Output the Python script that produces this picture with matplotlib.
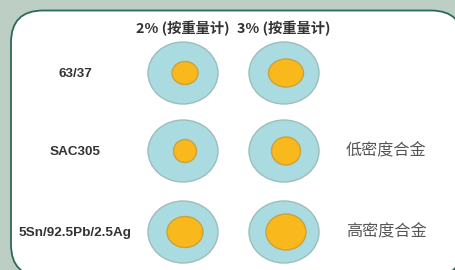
import matplotlib
matplotlib.use("Agg")
import matplotlib.pyplot as plt
from matplotlib.patches import Ellipse, FancyBboxPatch

# solder alloys and flux percentages
alloys = ["63/37", "SAC305", "5Sn/92.5Pb/2.5Ag"]
density_notes = ["", "低密度合金", "高密度合金"]
columns = ["2% (按重量计)", "3% (按重量计)"]

# void size (width, height) for 2% / 3% per alloy
void_w_2 = [26, 23, 36]
void_h_2 = [23, 23, 31]
void_w_3 = [35, 29, 40]
void_h_3 = [28, 28, 36]

W, H = 456, 270
fig = plt.figure(figsize=(W / 100, H / 100), dpi=100)
fig.patch.set_facecolor("#bdcfc5")
ax = fig.add_axes([0, 0, 1, 1])
ax.set_xlim(0, W)
ax.set_ylim(H, 0)
ax.axis("off")

# white rounded panel
panel = FancyBboxPatch((11, 10.5), 452, 266, boxstyle="round,pad=0,rounding_size=32",
                       facecolor="white", edgecolor="#2d6a55", linewidth=1.3)
ax.add_patch(panel)

col_x = [183, 284]
row_y = [73, 151, 232]
bold_latin = ["Liberation Sans", "Noto Sans CJK SC"]
cjk = ["Noto Sans CJK SC", "DejaVu Sans"]

for j, label in enumerate(columns):
    ax.text(col_x[j], 28, label, ha="center", va="center", fontsize=10.3,
            fontweight="bold", family=cjk, color="#333333")

sizes = [(void_w_2, void_h_2), (void_w_3, void_h_3)]
for i, alloy in enumerate(alloys):
    y = row_y[i]
    ax.text(75, y + 1, alloy, ha="center", va="center", fontsize=9.7,
            fontweight="bold", family=bold_latin, color="#333333")
    for j in range(2):
        ax.add_patch(Ellipse((col_x[j], y), 70, 62, facecolor="#aadbe1",
                             edgecolor="#9dbdbd", linewidth=1.0))
        vw, vh = sizes[j][0][i], sizes[j][1][i]
        ax.add_patch(Ellipse((col_x[j] + 2, y), vw, vh, facecolor="#f9b91d",
                             edgecolor="#c9a23c", linewidth=1.0))
    if density_notes[i]:
        ax.text(346, y, density_notes[i], ha="left", va="center", fontsize=11.6,
                family=cjk, color="#555555")

fig.savefig("out.png", dpi=100, facecolor=fig.get_facecolor())
